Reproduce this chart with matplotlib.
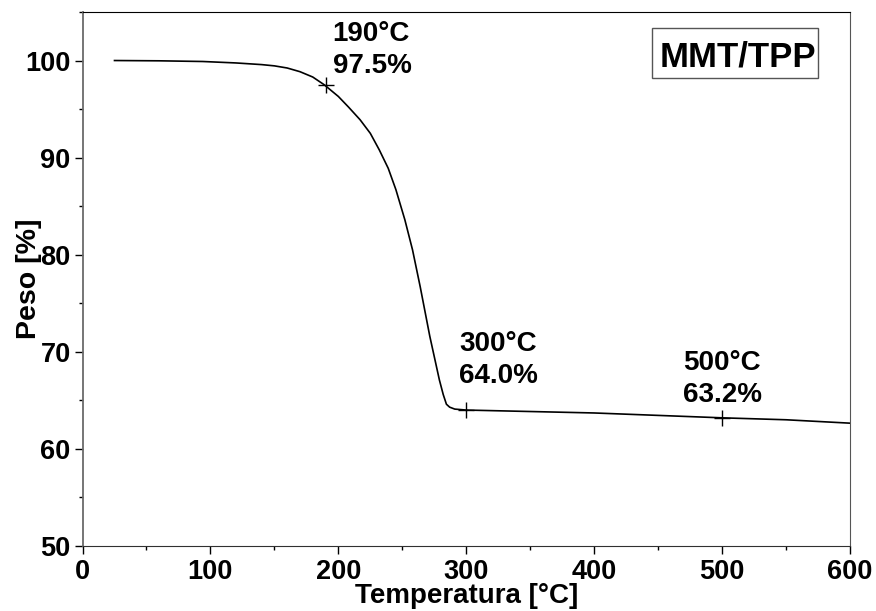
import matplotlib
matplotlib.use("Agg")
import matplotlib.pyplot as plt
from matplotlib.patches import Rectangle
from matplotlib.ticker import MultipleLocator

# TGA curve
temperature = [25, 60, 94, 120, 140, 150, 160, 170, 180, 189, 200, 208, 217, 225, 232, 239, 245, 252, 258, 264,
               271.5, 276, 279, 282, 284.5, 287, 291, 300, 350, 400, 450, 500, 550, 600]
weight = [100.0, 99.97, 99.9, 99.75, 99.58, 99.45, 99.23, 98.85, 98.3, 97.5, 96.3, 95.2, 93.9, 92.5, 90.8, 88.9,
          86.7, 83.6, 80.5, 76.7, 71.6, 68.9, 67.1, 65.6, 64.6, 64.3, 64.1, 64.0, 63.85, 63.7, 63.45, 63.2, 63.0, 62.65]

markTemps = [190, 300, 500]
markWeights = [97.5, 64.0, 63.2]
markOffsets = [(7, 12), (-7, 27), (-39, 16)]      # pixel offset of the label (last baseline) from the mark

plt.rcParams['font.family'] = ['Liberation Sans', 'DejaVu Sans']
plt.rcParams['font.weight'] = 'bold'

fig = plt.figure(figsize=(8.76, 6.11), dpi=100)
ax = fig.add_axes([0.0942, 0.1064, 0.8761, 0.874])

ax.plot(temperature, weight, color="black", linewidth=1.2)
ax.plot(markTemps, markWeights, linestyle="none", marker="+", markersize=11,
        markeredgewidth=1.0, color="black")

for t, w, off in zip(markTemps, markWeights, markOffsets):
    ax.annotate(f"{t}°C\n{w:.1f}%", (t, w), xytext=off, textcoords="offset pixels",
                fontsize=20, fontweight="bold", va="baseline", ha="left", linespacing=1.28)

# sample name box
ax.add_patch(Rectangle((0.7416, 0.8758), 0.2171, 0.0937, transform=ax.transAxes,
                       facecolor="white", edgecolor="#555555", linewidth=1.0, zorder=3))
ax.text(0.8545, 0.897, "MMT/TPP", transform=ax.transAxes, fontsize=25, fontweight="bold",
        ha="center", va="baseline", zorder=4)

ax.set_xlim(0, 600)
ax.set_ylim(50, 105)
ax.xaxis.set_major_locator(MultipleLocator(100))
ax.xaxis.set_minor_locator(MultipleLocator(50))
ax.yaxis.set_minor_locator(MultipleLocator(5))
ax.set_yticks([50, 60, 70, 80, 90, 100])
ax.tick_params(which="major", direction="out", length=6, width=1, labelsize=19.5)
ax.tick_params(axis="x", which="major", pad=3.5)
ax.tick_params(axis="y", which="major", pad=2.5)
ax.tick_params(which="minor", direction="out", length=3, width=1)
for lbl in ax.get_xticklabels() + ax.get_yticklabels():
    lbl.set_fontweight("bold")

ax.spines["left"].set_color("#6a6a6a")
ax.spines["left"].set_linewidth(1.3)
ax.spines["bottom"].set_color("#303030")
ax.spines["right"].set_color("#555555")
ax.spines["top"].set_color("black")

ax.set_xlabel("Temperatura [°C]", fontsize=20, fontweight="bold")
ax.set_ylabel("Peso [%]", fontsize=20.5, fontweight="bold")
ax.xaxis.set_label_coords(0.5, -0.069)
ax.yaxis.set_label_coords(-0.053, 0.5)

plt.savefig("out.png", dpi=100)
plt.close()
